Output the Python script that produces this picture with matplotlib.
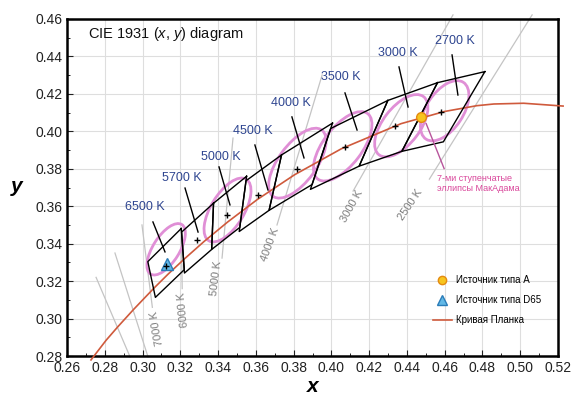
import matplotlib
matplotlib.use('Agg')
import matplotlib.pyplot as plt
from matplotlib.patches import Ellipse
from matplotlib.lines import Line2D
import numpy as np

plt.rcParams['font.family'] = ['Liberation Sans', 'DejaVu Sans']
plt.rcParams['mathtext.fontset'] = 'custom'
plt.rcParams['mathtext.it'] = 'Liberation Sans:italic'
plt.rcParams['mathtext.rm'] = 'Liberation Sans'

# ANSI quadrangles: nominal CCT, corner x / y, centre
cct_names = ['6500 K', '5700 K', '5000 K', '4500 K', '4000 K', '3500 K', '3000 K', '2700 K']
quad_x = [
    [0.3205, 0.3028, 0.3068, 0.3221],
    [0.3376, 0.3207, 0.3222, 0.3366],
    [0.3551, 0.3376, 0.3366, 0.3515],
    [0.3736, 0.3548, 0.3512, 0.3670],
    [0.4006, 0.3736, 0.3670, 0.3898],
    [0.4299, 0.3996, 0.3889, 0.4147],
    [0.4562, 0.4299, 0.4147, 0.4373],
    [0.4813, 0.4562, 0.4373, 0.4593],
]
quad_y = [
    [0.3481, 0.3304, 0.3113, 0.3261],
    [0.3616, 0.3462, 0.3243, 0.3369],
    [0.3760, 0.3616, 0.3369, 0.3487],
    [0.3874, 0.3736, 0.3465, 0.3578],
    [0.4044, 0.3874, 0.3578, 0.3716],
    [0.4165, 0.4015, 0.3690, 0.3814],
    [0.4260, 0.4165, 0.3814, 0.3893],
    [0.4319, 0.4260, 0.3893, 0.3944],
]
center_x = [0.3123, 0.3287, 0.3447, 0.3611, 0.3818, 0.4073, 0.4338, 0.4578]
center_y = [0.3282, 0.3417, 0.3553, 0.3658, 0.3797, 0.3917, 0.4030, 0.4101]

# label positions and leader lines (x1, y1, x2, y2)
label_x = [0.3013, 0.3209, 0.3415, 0.3585, 0.3786, 0.4051, 0.4353, 0.4654]
label_y = [0.3596, 0.3751, 0.3863, 0.4002, 0.4152, 0.4290, 0.4419, 0.4483]
leaders = [
    (0.3055, 0.3516, 0.3119, 0.3356),
    (0.3225, 0.3697, 0.3294, 0.3462),
    (0.3405, 0.3810, 0.3463, 0.3607),
    (0.3595, 0.3927, 0.3664, 0.3687),
    (0.3791, 0.4077, 0.3855, 0.3858),
    (0.4072, 0.4205, 0.4136, 0.4007),
    (0.4358, 0.4344, 0.4406, 0.4130),
    (0.4639, 0.4408, 0.4670, 0.4194),
]

# MacAdam 7-step ellipses: centre, semi axes, angle
ell_x = [0.3125, 0.3450, 0.3820, 0.4060, 0.4370, 0.4600]
ell_y = [0.3370, 0.3580, 0.3830, 0.3920, 0.4030, 0.4110]
ell_a = [0.0156, 0.0192, 0.0219, 0.0219, 0.0195, 0.0181]
ell_b = [0.0070, 0.0088, 0.0100, 0.0102, 0.0098, 0.0098]
ell_ang = [58, 59, 54, 53, 53, 57]

# Planckian locus
planck_x = [0.2727, 0.2807, 0.2869, 0.2952, 0.3004, 0.3064, 0.3135, 0.3221, 0.3325,
            0.3451, 0.3608, 0.3805, 0.4053, 0.4369, 0.4599, 0.4770, 0.4860, 0.5018, 0.5227]
planck_y = [0.2779, 0.2884, 0.2956, 0.3048, 0.3103, 0.3166, 0.3237, 0.3318, 0.3411,
            0.3516, 0.3636, 0.3768, 0.3907, 0.4041, 0.4106, 0.4137, 0.4146, 0.4150, 0.4135]

# isotemperature lines (x1, y1, x2, y2) and their labels
iso_lines = [
    (0.2754, 0.3220, 0.2934, 0.2795),
    (0.2854, 0.3350, 0.3029, 0.2795),
    (0.2997, 0.3500, 0.3052, 0.3060),
    (0.3205, 0.3480, 0.3210, 0.3160),
    (0.3479, 0.3964, 0.3421, 0.3323),
    (0.3951, 0.4301, 0.3712, 0.3500),
    (0.4644, 0.4622, 0.4115, 0.3681),
    (0.5063, 0.4622, 0.4519, 0.3745),
]
iso_names = ['7000 K', '6000 K', '5000 K', '4000 K', '3000 K', '2500 K']
iso_lab_x = [0.3077, 0.3216, 0.3389, 0.3675, 0.4109, 0.4417]
iso_lab_y = [0.2950, 0.3046, 0.3217, 0.3398, 0.3601, 0.3607]
iso_lab_rot = [100, 96, 83, 70, 61, 56]

srcA = (0.4476, 0.4074)
d65 = (0.3127, 0.3290)

fig = plt.figure(figsize=(5.71, 4.0), dpi=100)
ax = fig.add_axes([67 / 571, 44 / 400, 491 / 571, 337 / 400])
ax.set_xlim(0.26, 0.52)
ax.set_ylim(0.28, 0.46)
ax.set_xticks(np.arange(0.26, 0.5201, 0.02))
ax.set_yticks(np.arange(0.28, 0.4601, 0.02))
ax.set_xticks(np.arange(0.26, 0.5201, 0.01), minor=True)
ax.set_yticks(np.arange(0.28, 0.4601, 0.01), minor=True)
ax.xaxis.set_major_formatter(matplotlib.ticker.FormatStrFormatter('%.2f'))
ax.yaxis.set_major_formatter(matplotlib.ticker.FormatStrFormatter('%.2f'))
ax.tick_params(which='both', direction='in', labelsize=10, colors='#222222')
ax.tick_params(which='major', length=4, width=0.8)
ax.tick_params(which='minor', length=2.5, width=0.7)
ax.grid(True, which='major', color='#dedede', lw=0.8, zorder=0)
ax.set_axisbelow(True)
for s in ax.spines.values():
    s.set_linewidth(1.8)

# isotemperature lines
for (x1, y1, x2, y2) in iso_lines:
    ax.plot([x1, x2], [y1, y2], color='#c4c4c4', lw=0.9, zorder=1, clip_on=False)
for name, lx, ly, rot in zip(iso_names, iso_lab_x, iso_lab_y, iso_lab_rot):
    ax.text(lx, ly, name, rotation=rot, rotation_mode='anchor', ha='center', va='center',
            fontsize=8, color='#7d7d7d', zorder=2)

# ellipses
for ex, ey, ea, eb, ang in zip(ell_x, ell_y, ell_a, ell_b, ell_ang):
    ax.add_patch(Ellipse((ex, ey), 2 * ea, 2 * eb, angle=ang, fill=False,
                         edgecolor='#e08fd6', lw=2.0, zorder=3))

# Planck curve
ax.plot(planck_x, planck_y, color='#cf5a3c', lw=1.2, zorder=4, clip_on=False)

# quadrangles
for qx, qy in zip(quad_x, quad_y):
    ax.plot(qx + [qx[0]], qy + [qy[0]], color='black', lw=1.0, zorder=5)

for (x1, y1, x2, y2) in leaders:
    ax.plot([x1, x2], [y1, y2], color='black', lw=1.0, zorder=5)
for name, lx, ly in zip(cct_names, label_x, label_y):
    ax.text(lx, ly, name, ha='center', va='center', fontsize=9, color='#2e4590', zorder=6)

ax.plot(srcA[0], srcA[1], 'o', ms=7, mfc='#f7c51e', mec='#e48a10', mew=1, zorder=7)
ax.plot(d65[0], d65[1], '^', ms=8, mfc='#62b8e6', mec='#2a7cb8', mew=1, zorder=7)
ax.plot(center_x, center_y, '+', color='black', ms=5, mew=1.0, zorder=8)

# MacAdam annotation
ax.plot([0.4502, 0.4597], [0.4041, 0.3801], color='#b8559c', lw=1.0, zorder=6)
ax.text(0.4557, 0.3773, '7-ми ступенчатые\nэллипсы МакАдама', fontsize=6.5,
        color='#d9479b', ha='left', va='top', linespacing=1.15, zorder=6)

ax.text(0.0425, 0.955, r'CIE 1931 ($x$, $y$) diagram', transform=ax.transAxes,
        fontsize=10.5, ha='left', va='center', color='#111111')

handles = [
    Line2D([], [], marker='o', ls='none', ms=6, mfc='#f7c51e', mec='#e48a10', mew=1),
    Line2D([], [], marker='^', ls='none', ms=7, mfc='#62b8e6', mec='#2a7cb8', mew=1),
    Line2D([], [], color='#cf5a3c', lw=1.2),
]
ax.legend(handles, ['Источник типа А', 'Источник типа D65', 'Кривая Планка'],
          loc='upper left', bbox_to_anchor=(0.735, 0.255), frameon=False, fontsize=7,
          handlelength=2.0, handletextpad=0.35, labelspacing=1.05, borderpad=0)

fig.text(313 / 571, 1 - 386 / 400, 'x', fontsize=15, style='italic', fontweight='bold',
         ha='center', va='center')
fig.text(17 / 571, 1 - 186 / 400, 'y', fontsize=15, style='italic', fontweight='bold',
         ha='center', va='center')

fig.savefig('out.png', dpi=100)
